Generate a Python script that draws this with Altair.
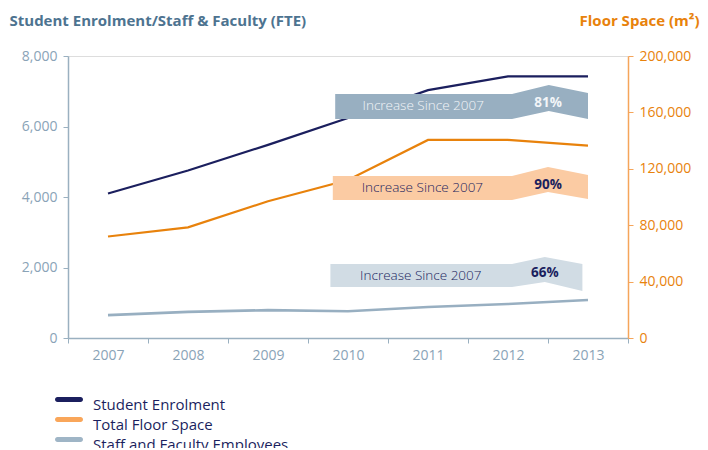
import altair as alt
import pandas as pd

# ---- data ----
years = [2007, 2008, 2009, 2010, 2011, 2012, 2013]
student_enrolment = [4100, 4750, 5480, 6240, 7030, 7420, 7420]
floor_space = [72000, 78500, 97000, 112000, 140500, 140500, 136500]
staff_faculty = [650, 740, 790, 760, 880, 965, 1080]

series_names = ["Student Enrolment", "Total Floor Space", "Staff and Faculty Employees"]
left_ticks = [0, 2000, 4000, 6000, 8000]
right_ticks = [0, 40000, 80000, 120000, 160000, 200000]

increase_text = "Increase Since 2007"
increase_labels = ["81%", "90%", "66%"]

# ---- annotation ribbons (in year / left-axis units) ----
box_x = [[2009.84, 2012.05, 2012.51, 2013.0],
         [2009.81, 2012.05, 2012.50, 2013.0],
         [2009.78, 2012.05, 2012.46, 2012.93]]
box_top = [[6922, 6922, 7177, 6950],
           [4596, 4596, 4851, 4624],
           [2099, 2099, 2298, 2099]]
box_bottom = [[6213, 6213, 6440, 6213],
              [3915, 3915, 4142, 3943],
              [1447, 1447, 1589, 1333]]
label_pos_x = [2010.94, 2010.93, 2010.91]
label_pos_y = [6582, 4255, 1759]
pct_pos_x = [2012.50, 2012.50, 2012.46]
pct_pos_y = [6667, 4340, 1844]

# ---- styles ----
FONT = "Open Sans"
navy = "#1b1f5e"
orange = "#e8820c"
steel = "#98afc1"
legend_colors = [navy, "#f9a65a", "#9fb5c6"]
box_fills = ["#98afc1", "#fbcba3", "#d1dce4"]
box_text_colors = ["#f2f5f8", navy, navy]
axis_grey = "#9ab0c0"
label_grey = "#8aa3b7"
swatch_path = ("M-1.15,-0.75 H1.15 A0.25,0.25 0 0 1 1.15,-0.25 "
               "H-1.15 A0.25,0.25 0 0 1 -1.15,-0.75 Z")

df = pd.DataFrame({
    "year": years,
    "student": student_enrolment,
    "floor": floor_space,
    "staff": staff_faculty,
})

x_scale = alt.Scale(type="band", paddingInner=0, paddingOuter=0)
x_axis = alt.Axis(
    tickBand="extent", labelAngle=0, title=None, labelFont=FONT, labelFontSize=14,
    labelColor=label_grey, domainColor=axis_grey, tickColor=axis_grey, tickSize=5,
    labelPadding=5, grid=False, domainWidth=1.5,
)
left_scale = alt.Scale(domain=[0, 8000], nice=False)
right_scale = alt.Scale(domain=[0, 200000], nice=False)

left_axis = alt.Axis(
    values=left_ticks, format=",.0f", grid=False, labelFont=FONT, labelFontSize=14,
    labelColor=label_grey, domainColor=axis_grey, tickColor=axis_grey, tickSize=5,
    labelPadding=6, domainWidth=1.5,
    title="Student Enrolment/Staff & Faculty (FTE)", titleAngle=0, titleX=-59, titleY=-31,
    titleAlign="left", titleBaseline="alphabetic", titleFont=FONT, titleFontSize=15,
    titleFontWeight="bold", titleColor="#4d7390",
)
right_axis = alt.Axis(
    orient="right", values=right_ticks, format=",.0f", grid=False, labelFont=FONT,
    labelFontSize=14, labelColor=orange, domainColor="#f5a55a", tickColor="#f5a55a",
    tickSize=5, labelPadding=6, domainWidth=1.5,
    title="Floor Space (m²)", titleAngle=0, titleX=71, titleY=-31, titleAlign="right",
    titleBaseline="alphabetic", titleFont=FONT, titleFontSize=15, titleFontWeight="bold",
    titleColor=orange,
)

base = alt.Chart(df)

student_line = base.mark_line(strokeWidth=2.2, color=navy).encode(
    x=alt.X("year:O", scale=x_scale, bandPosition=0.5, axis=x_axis),
    y=alt.Y("student:Q", scale=left_scale, axis=left_axis),
)
staff_line = base.mark_line(strokeWidth=2.6, color=steel).encode(
    x=alt.X("year:O", scale=x_scale, bandPosition=0.5, axis=None),
    y=alt.Y("staff:Q", scale=left_scale, axis=None),
)
floor_line = base.mark_line(strokeWidth=2.2, color=orange).encode(
    x=alt.X("year:O", scale=x_scale, bandPosition=0.5, axis=None),
    y=alt.Y("floor:Q", scale=right_scale, axis=right_axis),
)

ann_x_scale = alt.Scale(domain=[2006.5, 2013.5], nice=False, zero=False)
layers = [student_line, staff_line, floor_line]

for i in range(3):
    bdf = pd.DataFrame({"x": box_x[i], "top": box_top[i], "bottom": box_bottom[i]})
    area = alt.Chart(bdf).mark_area(color=box_fills[i], opacity=1, interpolate="linear").encode(
        x=alt.X("x:Q", scale=ann_x_scale, axis=None),
        y=alt.Y("top:Q", scale=left_scale, axis=None),
        y2="bottom:Q",
    )
    tdf = pd.DataFrame({
        "x": [label_pos_x[i], pct_pos_x[i]],
        "y": [label_pos_y[i], pct_pos_y[i]],
        "t": [increase_text, increase_labels[i]],
    })
    txt_light = alt.Chart(tdf.iloc[[0]]).mark_text(
        font=FONT, fontSize=13.5, fontWeight=300, color=box_text_colors[i],
        align="center", baseline="middle",
    ).encode(
        x=alt.X("x:Q", scale=ann_x_scale, axis=None),
        y=alt.Y("y:Q", scale=left_scale, axis=None),
        text="t:N",
    )
    txt_bold = alt.Chart(tdf.iloc[[1]]).mark_text(
        font=FONT, fontSize=13.5, fontWeight="bold", color=box_text_colors[i],
        align="center", baseline="middle",
    ).encode(
        x=alt.X("x:Q", scale=ann_x_scale, axis=None),
        y=alt.Y("y:Q", scale=left_scale, axis=None),
        text="t:N",
    )
    layers += [area, txt_light, txt_bold]

legend_df = pd.DataFrame({"series": series_names})
legend_layer = alt.Chart(legend_df).mark_point(filled=True, opacity=0).encode(
    color=alt.Color(
        "series:N",
        scale=alt.Scale(domain=series_names, range=legend_colors),
        legend=alt.Legend(
            orient="none", legendX=-9, legendY=338.5, title=None, symbolType=swatch_path,
            symbolStrokeWidth=0, symbolSize=400, symbolOpacity=1, labelFont=FONT,
            labelFontSize=15, labelColor=navy, rowPadding=2, labelOffset=14, padding=0,
            labelLimit=400,
        ),
    ),
)
layers.append(legend_layer)

chart = alt.layer(*layers).resolve_scale(x="independent", y="independent").properties(
    width=560, height=282,
    autosize=alt.AutoSizeParams(type="none"),
    padding={"left": 60, "top": 48, "right": 72, "bottom": 110},
).configure_view(stroke=None).configure(background="white")

chart.save("out.html", embed_options={"renderer": "svg", "actions": False})
